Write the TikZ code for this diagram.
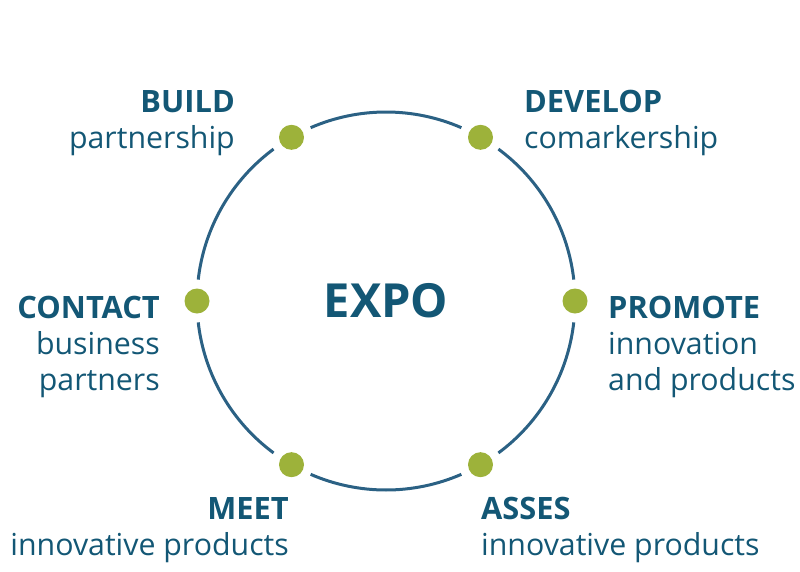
\documentclass[tikz,border=0pt]{standalone}
\usepackage{fontspec}
\setmainfont{Open Sans}
\usetikzlibrary{calc}
\definecolor{txtblue}{HTML}{135775}
\definecolor{ringblue}{HTML}{2B6184}
\definecolor{dotgreen}{HTML}{9DB23A}
\begin{document}
\begin{tikzpicture}[x=1pt,y=-1pt,
  head/.style={inner sep=0pt,text=txtblue,font=\fontsize{30.8}{36}\selectfont\bfseries},
  sub/.style={inner sep=0pt,text=txtblue,font=\fontsize{30.3}{36}\selectfont},
  dot/.style={circle,fill=dotgreen,minimum size=25pt,inner sep=0pt},
  ring/.style={draw=ringblue,line width=3pt}]
\useasboundingbox (0,0) rectangle (800,571);
\coordinate (c) at (386,301);
% ring arcs with gaps
\foreach \a in {0,60,120,180,240,300}{
  \draw[ring] ($(c)+({\a+6.5}:189 and -189)$) arc[start angle={\a+6.5}, end angle={\a+53.5}, radius=189pt];
}
% dots
\node[dot] (d0) at ($(c)+(0:189 and -189)$) {};
\node[dot] (d60) at ($(c)+(60:189 and -189)$) {};
\node[dot] (d120) at ($(c)+(120:189 and -189)$) {};
\node[dot] (d180) at ($(c)+(180:189 and -189)$) {};
\node[dot] (d240) at ($(c)+(240:189 and -189)$) {};
\node[dot] (d300) at ($(c)+(300:189 and -189)$) {};
% center
\node[inner sep=0pt,text=txtblue,font=\fontsize{47}{56}\selectfont\bfseries,anchor=base] (expo) at (386,317) {EXPO};
% BUILD
\node[head,anchor=base east] (build) at (235,112) {BUILD};
\node[sub,anchor=base east] (buildb) at (235,148) {partnership};
% DEVELOP
\node[head,anchor=base west] (dev) at (524,112) {DEVELOP};
\node[sub,anchor=base west] (devb) at (524,148) {comarkership};
% CONTACT
\node[head,anchor=base east] (cont) at (160,318) {CONTACT};
\node[sub,anchor=base east] (contb) at (160,354) {business};
\node[sub,anchor=base east] (contc) at (160,390) {partners};
% PROMOTE
\node[head,anchor=base west] (prom) at (608,318) {PROMOTE};
\node[sub,anchor=base west] (promb) at (608,354) {innovation};
\node[sub,anchor=base west] (promc) at (608,390) {and products};
% MEET
\node[head,anchor=base east] (meet) at (289,519) {MEET};
\node[sub,anchor=base east] (meetb) at (289,555) {innovative products};
% ASSES
\node[head,anchor=base west] (ass) at (481,519) {ASSES};
\node[sub,anchor=base west] (assb) at (481,555) {innovative products};
\end{tikzpicture}
\end{document}
